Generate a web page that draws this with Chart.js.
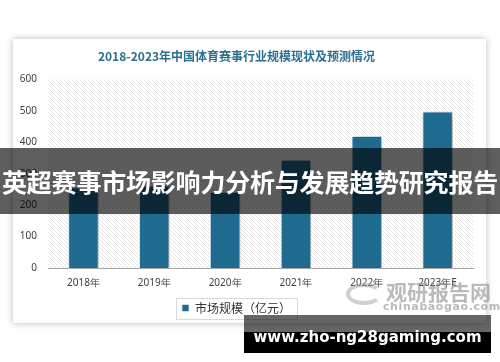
<!DOCTYPE html>
<html>
<head>
<meta charset="utf-8">
<script src="https://cdn.jsdelivr.net/npm/chart.js@4.4.1/dist/chart.umd.min.js"></script>
<style>
  body { margin: 0; width: 500px; height: 362px; background: #fff; position: relative; overflow: hidden;
         font-family: "Noto Sans CJK SC", "Noto Sans", sans-serif; }
  #card { position: absolute; left: 13px; top: 39px; width: 473px; height: 284px; background: #fff;
          box-shadow: 0 0 7px rgba(0,0,0,0.28); }
  #wrap { position: absolute; left: 0; top: 0; width: 500px; height: 362px; }
  .wm { position: absolute; color: rgba(140,140,140,0.6); font-weight: bold; white-space: nowrap; }
  #banner { position: absolute; left: 0; top: 148px; width: 500px; height: 66px; background: rgba(0,0,0,0.63);
            color: #fff; font-weight: bold; font-size: 25px; line-height: 66px; text-align: center;
            white-space: nowrap; letter-spacing: -0.2px; }
  #url1 { position: absolute; left: 244px; top: 315px; width: 247px; height: 17px; background: rgba(0,0,0,0.6); }
  #url2 { position: absolute; left: 244px; top: 332px; width: 247px; height: 21px; background: #000; }
  #urltxt { position: absolute; left: 244px; top: 326px; width: 247px; height: 22px; line-height: 22px; text-align: center;
            color: #fff; font-family: "DejaVu Sans", sans-serif; font-weight: bold; font-size: 15px; white-space: nowrap; }
</style>
</head>
<body>
<div id="card"></div>
<div id="wrap"><canvas id="chart" width="500" height="362"></canvas></div>
<div class="wm" style="left:346px;top:283px;width:36px;height:22px;border:4px solid rgba(160,160,160,0.5);border-radius:50%;border-right-color:transparent;box-sizing:border-box;"></div>
<div class="wm" style="left:386px;top:276px;font-size:21px;">观研报告网</div>
<div class="wm" style="left:383px;top:300px;font-size:11px;font-family:'DejaVu Sans',sans-serif;letter-spacing:0.6px;">chinabaogao.com</div>
<div id="banner">英超赛事市场影响力分析与发展趋势研究报告</div>
<div id="url1"></div>
<div id="url2"></div>
<div id="urltxt">www.zho-ng28gaming.com</div>
<script>
const years = ['2018年', '2019年', '2020年', '2021年', '2022年', '2023年E'];
const marketSize = [256, 262, 242, 344, 420, 498];
const seriesName = '市场规模（亿元）';
const chartTitle = '2018-2023年中国体育赛事行业规模现状及预测情况';
const yTicks = [0, 100, 200, 300, 400, 500, 600];

const barColor = '#1e6b8f';

// diagonal hatch behind plot area
function hatch() {
  const c = document.createElement('canvas');
  c.width = 4; c.height = 4;
  const g = c.getContext('2d');
  g.strokeStyle = '#e4e4e4';
  g.lineWidth = 1;
  g.beginPath();
  g.moveTo(0, 0); g.lineTo(4, 4);
  g.moveTo(-1, 3); g.lineTo(1, 5);
  g.moveTo(3, -1); g.lineTo(5, 1);
  g.stroke();
  return c;
}

const bgPlugin = {
  id: 'hatchBg',
  beforeDatasetsDraw(chart) {
    const { ctx, chartArea: a } = chart;
    ctx.save();
    ctx.fillStyle = ctx.createPattern(hatch(), 'repeat');
    ctx.fillRect(a.left, a.top, a.right - a.left, a.bottom - a.top);
    ctx.restore();
    ctx.save();
    ctx.shadowColor = 'rgba(0,0,0,0.3)';
    ctx.shadowBlur = 6;
    ctx.shadowOffsetX = 3;
    ctx.shadowOffsetY = 1;
  },
  afterDatasetsDraw(chart) {
    chart.ctx.restore();
  },
  afterDraw(chart) {
    const box = chart.legend.legendHitBoxes[0];
    if (!box) return;
    const ctx = chart.ctx;
    ctx.save();
    ctx.strokeStyle = '#d9d9d9';
    ctx.lineWidth = 1;
    const w = 121, h = 21;
    const cx = box.left + box.width / 2;
    const cy = box.top + box.height / 2;
    ctx.strokeRect(Math.round(cx - w / 2) + 0.5, Math.round(cy - h / 2) + 0.5, w, h);
    ctx.restore();
  }
};

new Chart(document.getElementById('chart'), {
  type: 'bar',
  data: {
    labels: years,
    datasets: [{
      label: seriesName,
      data: marketSize,
      backgroundColor: barColor,
      borderColor: 'rgba(220,235,242,0.8)',
      borderWidth: 1,
      categoryPercentage: 1,
      barPercentage: 0.43
    }]
  },
  options: {
    responsive: false,
    animation: false,
    layout: { padding: { left: 0, right: 27, top: 0, bottom: 38 } },
    plugins: {
      title: {
        display: true,
        text: chartTitle,
        color: '#2c6f90',
        font: { size: 12, weight: 'bold', family: '"Noto Sans CJK SC", sans-serif' },
        padding: { top: 49, bottom: 16 }
      },
      legend: {
        position: 'bottom',
        labels: {
          color: '#333',
          font: { size: 12, family: '"Noto Sans CJK SC", sans-serif' },
          boxWidth: 7,
          boxHeight: 7,
          padding: 10
        }
      },
      tooltip: { enabled: false }
    },
    scales: {
      x: {
        grid: { display: false, drawTicks: false },
        border: { color: '#a6a6a6', width: 1 },
        ticks: { color: '#404040', font: { size: 10, family: '"Noto Sans", sans-serif' }, padding: 9 },
        afterFit(s) { s.height = 24; }
      },
      y: {
        min: 0, max: 600,
        afterBuildTicks(s) { s.ticks = yTicks.map(v => ({ value: v })); },
        grid: { display: false, drawTicks: false },
        border: { display: false },
        ticks: { color: '#404040', font: { size: 10, family: '"Noto Sans", sans-serif' }, padding: 11 },
        afterFit(s) { s.width = 48; }
      }
    }
  },
  plugins: [bgPlugin]
});
</script>
</body>
</html>
